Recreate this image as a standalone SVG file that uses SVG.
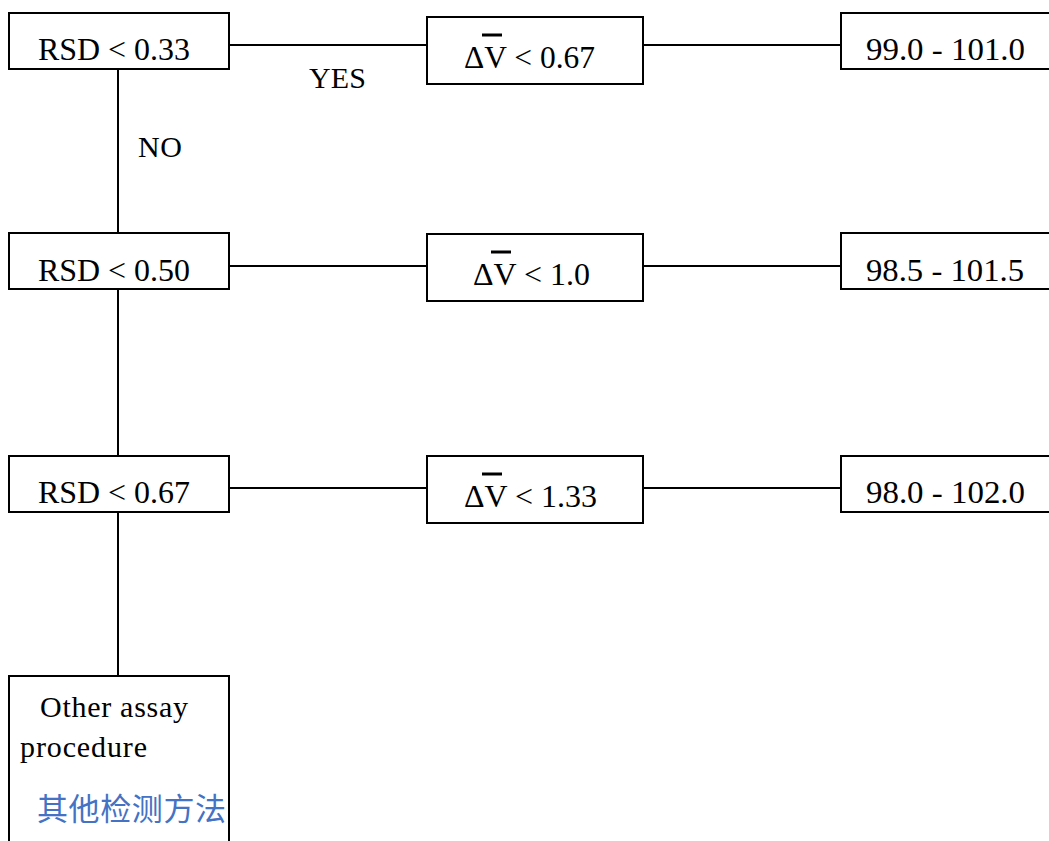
<svg xmlns="http://www.w3.org/2000/svg" width="1049" height="841" viewBox="0 0 1049 841">
<style>
.box{fill:#fff;stroke:#000;stroke-width:2}
.ln{stroke:#000;stroke-width:2;fill:none}
.t{font-family:"Liberation Serif","DejaVu Serif",serif;font-size:30px;fill:#000}
.m{font-family:"Liberation Serif","DejaVu Serif",serif;font-size:32px;fill:#000}
.bar{stroke:#000;stroke-width:3}
.cn{font-family:"Noto Sans CJK SC",sans-serif;font-size:31px;fill:#4472C4}
</style>
<rect width="1049" height="841" fill="#fff"/>
<g id="connectors">
<line class="ln" x1="229" y1="45" x2="427" y2="45"/>
<line class="ln" x1="643" y1="45" x2="841" y2="45"/>
<line class="ln" x1="229" y1="266" x2="427" y2="266"/>
<line class="ln" x1="643" y1="266" x2="841" y2="266"/>
<line class="ln" x1="229" y1="488" x2="427" y2="488"/>
<line class="ln" x1="643" y1="488" x2="841" y2="488"/>
<line class="ln" x1="118" y1="69" x2="118" y2="233"/>
<line class="ln" x1="118" y1="289" x2="118" y2="456"/>
<line class="ln" x1="118" y1="512" x2="118" y2="676"/>
<text class="t" x="309" y="88" textLength="57">YES</text>
<text class="t" x="138" y="157" textLength="44">NO</text>
</g>
<g id="rsd1">
<rect class="box" x="9" y="13" width="220" height="56"/>
<text class="m" x="38" y="60" textLength="152" lengthAdjust="spacingAndGlyphs">RSD &lt; 0.33</text>
</g>
<g id="dv1">
<rect class="box" x="427" y="17" width="216" height="67"/>
<line class="bar" x1="482" y1="35" x2="502" y2="35"/>
<text class="m" x="464" y="68" textLength="131" lengthAdjust="spacingAndGlyphs">ΔV &lt; 0.67</text>
</g>
<g id="range1">
<rect class="box" x="841" y="13" width="220" height="56"/>
<text class="m" x="866" y="60" textLength="159" lengthAdjust="spacingAndGlyphs">99.0 - 101.0</text>
</g>
<g id="rsd2">
<rect class="box" x="9" y="233" width="220" height="56"/>
<text class="m" x="38" y="281" textLength="152" lengthAdjust="spacingAndGlyphs">RSD &lt; 0.50</text>
</g>
<g id="dv2">
<rect class="box" x="427" y="234" width="216" height="67"/>
<line class="bar" x1="491" y1="252" x2="511" y2="252"/>
<text class="m" x="473" y="285" textLength="117" lengthAdjust="spacingAndGlyphs">ΔV &lt; 1.0</text>
</g>
<g id="range2">
<rect class="box" x="841" y="233" width="220" height="56"/>
<text class="m" x="866" y="281" textLength="158" lengthAdjust="spacingAndGlyphs">98.5 - 101.5</text>
</g>
<g id="rsd3">
<rect class="box" x="9" y="456" width="220" height="56"/>
<text class="m" x="38" y="503" textLength="152" lengthAdjust="spacingAndGlyphs">RSD &lt; 0.67</text>
</g>
<g id="dv3">
<rect class="box" x="427" y="456" width="216" height="67"/>
<line class="bar" x1="482" y1="474" x2="502" y2="474"/>
<text class="m" x="464" y="507" textLength="133" lengthAdjust="spacingAndGlyphs">ΔV &lt; 1.33</text>
</g>
<g id="range3">
<rect class="box" x="841" y="456" width="220" height="56"/>
<text class="m" x="866" y="503" textLength="159" lengthAdjust="spacingAndGlyphs">98.0 - 102.0</text>
</g>
<g id="other">
<rect class="box" x="9" y="676" width="220" height="180"/>
<text class="t" x="40" y="717" textLength="148">Other assay</text>
<text class="t" x="20" y="757" textLength="127">procedure</text>
<text class="cn" x="37" y="820" textLength="189">其他检测方法</text>
</g>
</svg>
